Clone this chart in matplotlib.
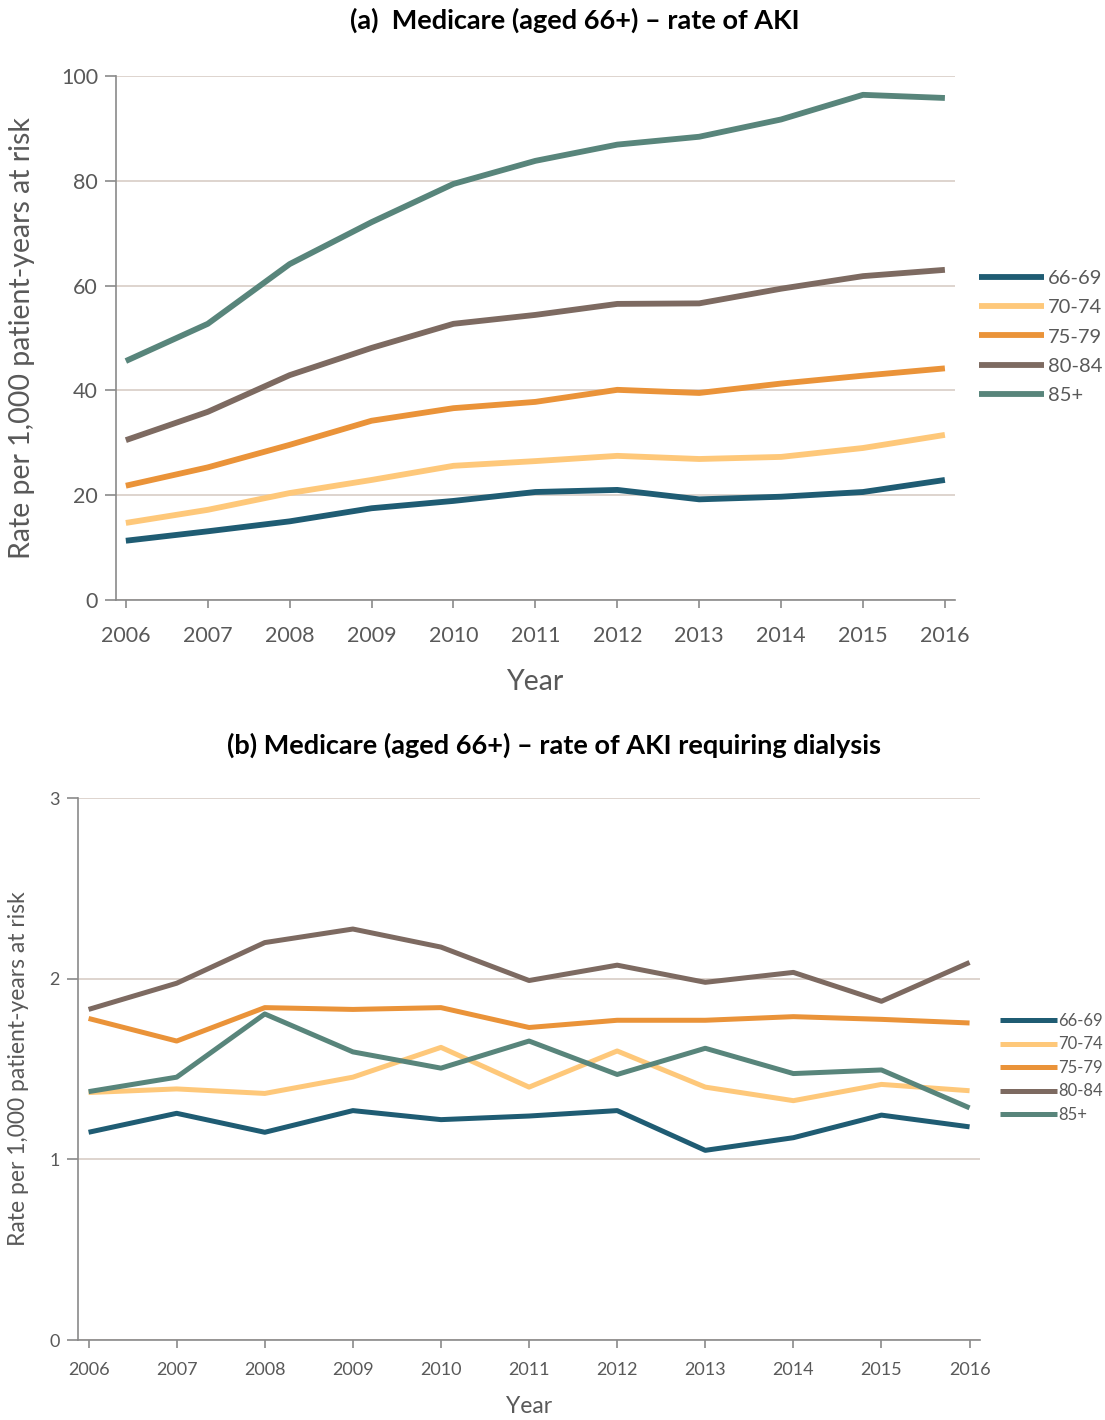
import matplotlib
matplotlib.use("Agg")
import matplotlib.pyplot as plt

plt.rcParams['font.family'] = ['Lato', 'DejaVu Sans']

years = [2006, 2007, 2008, 2009, 2010, 2011, 2012, 2013, 2014, 2015, 2016]
groups = ['66-69', '70-74', '75-79', '80-84', '85+']
colors = ['#1f5c73', '#fec87a', '#ea9339', '#7d6a61', '#58857b']

# (a) rate of AKI per 1,000 patient-years
aki_6669 = [11.3, 13.1, 15.0, 17.5, 18.9, 20.6, 21.0, 19.2, 19.7, 20.6, 22.9]
aki_7074 = [14.7, 17.2, 20.4, 22.9, 25.6, 26.5, 27.5, 26.9, 27.3, 29.0, 31.5]
aki_7579 = [21.8, 25.3, 29.6, 34.2, 36.6, 37.8, 40.1, 39.5, 41.3, 42.8, 44.2]
aki_8084 = [30.5, 35.9, 42.9, 48.1, 52.7, 54.4, 56.5, 56.6, 59.4, 61.8, 63.0]
aki_85 = [45.6, 52.7, 64.1, 72.1, 79.4, 83.8, 86.9, 88.4, 91.7, 96.4, 95.8]

# (b) rate of AKI requiring dialysis per 1,000 patient-years
dia_6669 = [1.15, 1.255, 1.15, 1.27, 1.22, 1.24, 1.27, 1.05, 1.12, 1.245, 1.18]
dia_7074 = [1.37, 1.39, 1.365, 1.455, 1.62, 1.40, 1.60, 1.40, 1.325, 1.415, 1.38]
dia_7579 = [1.78, 1.655, 1.84, 1.83, 1.84, 1.73, 1.77, 1.77, 1.79, 1.775, 1.755]
dia_8084 = [1.83, 1.975, 2.20, 2.275, 2.175, 1.99, 2.075, 1.98, 2.035, 1.875, 2.09]
dia_85 = [1.375, 1.455, 1.805, 1.595, 1.505, 1.655, 1.47, 1.615, 1.475, 1.495, 1.285]

aki = [aki_6669, aki_7074, aki_7579, aki_8084, aki_85]
dia = [dia_6669, dia_7074, dia_7579, dia_8084, dia_85]

grid_col = '#d8cdc6'
spine_col = '#8a8a8a'
text_col = '#595959'

fig = plt.figure(figsize=(11.05, 14.2), dpi=100)
ax1 = fig.add_axes([0.105, 0.5775, 0.759, 0.369])
ax2 = fig.add_axes([0.0706, 0.0563, 0.8164, 0.3817])


def style(ax, ticksize, labsize, yticks, ylim, xpad, xlab_y, ylab_x):
    for s in ['top', 'right']:
        ax.spines[s].set_visible(False)
    for s in ['left', 'bottom']:
        ax.spines[s].set_color(spine_col)
        ax.spines[s].set_linewidth(1.2)
    ax.set_xlim(2005.88, 2016.12)
    ax.set_ylim(*ylim)
    ax.set_xticks(years)
    ax.set_yticks(yticks)
    ax.yaxis.grid(True, color=grid_col, linewidth=1.2)
    ax.set_axisbelow(True)
    ax.tick_params(colors=spine_col, labelcolor=text_col, labelsize=ticksize,
                   length=6, width=1.2)
    ax.tick_params(axis='x', pad=xpad)
    ax.tick_params(axis='y', length=8, pad=5)
    ax.set_xlabel('Year', fontsize=labsize, color=text_col, va='top')
    ax.set_ylabel('Rate per 1,000 patient-years at risk', fontsize=labsize, color=text_col)
    ax.xaxis.set_label_coords(0.5, xlab_y)
    ax.yaxis.set_label_coords(ylab_x, 0.5)


for vals, c, g in zip(aki, colors, groups):
    ax1.plot(years, vals, color=c, linewidth=4.2, label=g, solid_capstyle='butt')
style(ax1, 15.5, 20.5, [0, 20, 40, 60, 80, 100], (0, 100), 12.5, -0.131, -0.097)
fig.text(0.520, 0.9859, '(a)  Medicare (aged 66+) \u2013 rate of AKI', fontsize=19.5,
         fontweight='bold', color='black', ha='center', va='center')
fig.legend(handles=ax1.get_lines(), loc='center left', bbox_to_anchor=(0.886, 0.7627),
           bbox_transform=fig.transFigure, frameon=False, fontsize=14.5, borderpad=0,
           borderaxespad=0, handlelength=3.25, handletextpad=0.15, labelspacing=0.6,
           labelcolor=text_col)

for vals, c, g in zip(dia, colors, groups):
    ax2.plot(years, vals, color=c, linewidth=3.6, label=g, solid_capstyle='butt')
style(ax2, 13, 16.5, [0, 1, 2, 3], (0, 3), 9.5, -0.104, -0.054)
fig.text(0.501, 0.4754, '(b) Medicare (aged 66+) \u2013 rate of AKI requiring dialysis',
         fontsize=19.5, fontweight='bold', color='black', ha='center', va='center')
fig.legend(handles=ax2.get_lines(), loc='center left', bbox_to_anchor=(0.905, 0.2479),
           bbox_transform=fig.transFigure, frameon=False, fontsize=12, borderpad=0,
           borderaxespad=0, handlelength=3.4, handletextpad=0.1, labelspacing=0.45,
           labelcolor=text_col)

fig.savefig('out.png', dpi=100)
